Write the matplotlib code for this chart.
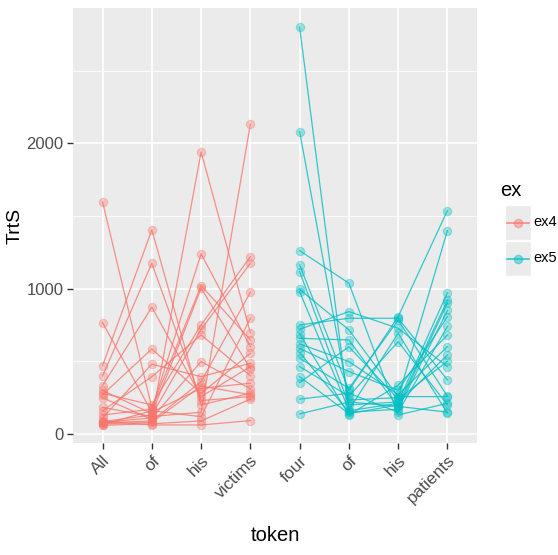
import matplotlib
matplotlib.use("Agg")
import matplotlib.pyplot as plt
from matplotlib.lines import Line2D
from matplotlib.patches import Rectangle
import numpy as np

plt.rcParams['font.family'] = ['Liberation Sans', 'DejaVu Sans']

tokens = ["All", "of", "his", "victims", "four", "of", "his", "patients"]

# ex4 subjects: values at All, of, his, victims
ex4_all = [1596, 766, 470, 399, 333, 300, 280, 270, 250, 183, 160, 131, 110, 85, 80, 75, 69, 65, 60, 90]
ex4_of = [180, 150, 1404, 1174, 872, 140, 200, 585, 100, 120, 394, 170, 480, 130, 110, 90, 80, 160, 70, 62]
ex4_his = [1021, 314, 200, 230, 257, 1002, 750, 280, 1940, 150, 681, 1239, 394, 720, 498, 360, 330, 119, 90, 62]
ex4_victims = [647, 349, 280, 257, 463, 450, 1220, 555, 697, 2131, 400, 601, 486, 1174, 310, 975, 270, 796, 240, 92]

# ex5 subjects: values at four, of, his, patients
ex5_four = [2798, 2080, 1261, 1163, 1117, 995, 979, 750, 720, 690, 658, 620, 589, 560, 521, 463, 394, 353, 240, 138]
ex5_of = [160, 234, 1037, 300, 200, 716, 165, 796, 842, 131, 647, 498, 429, 150, 314, 260, 140, 600, 280, 220]
ex5_his = [211, 250, 131, 807, 220, 257, 693, 796, 727, 337, 184, 270, 300, 170, 784, 635, 200, 240, 150, 190]
ex5_patients = [544, 1399, 211, 1537, 972, 257, 142, 372, 463, 681, 899, 601, 807, 850, 260, 200, 920, 500, 740, 150]

groups = ["ex4", "ex5"]
col4 = "#F8766D"
col5 = "#00BFC4"

W, H = 558, 555
fig = plt.figure(figsize=(W/100, H/100), dpi=100)
ax = fig.add_axes([73/W, 1-443/H, (477-73)/W, (443-8)/H])
ax.set_facecolor("#EBEBEB")

x = np.arange(len(tokens))
for i in range(len(ex4_all)):
    vals = [ex4_all[i], ex4_of[i], ex4_his[i], ex4_victims[i]]
    ax.plot(x[:4], vals, color=col4, lw=0.9, alpha=0.8, zorder=3)
    ax.scatter(x[:4], vals, s=36, color=col4, alpha=0.35, edgecolors=col4, linewidths=0.8, zorder=4)
for i in range(len(ex5_four)):
    vals = [ex5_four[i], ex5_of[i], ex5_his[i], ex5_patients[i]]
    ax.plot(x[4:], vals, color=col5, lw=0.9, alpha=0.8, zorder=3)
    ax.scatter(x[4:], vals, s=36, color=col5, alpha=0.35, edgecolors=col5, linewidths=0.8, zorder=4)

ax.set_xlim(-0.6, 7.6)
ax.set_ylim(-62, 2930)
ax.set_xticks(x)
ax.set_xticklabels(tokens, rotation=45, ha='right', va='top', rotation_mode='anchor',
                   fontsize=12.5, color='#4D4D4D')
ax.set_yticks([0, 1000, 2000])
ax.set_yticks([500, 1500, 2500], minor=True)
ax.tick_params(axis='y', which='minor', length=0)
ax.tick_params(axis='both', which='major', length=4, width=1, color='#333333',
               labelcolor='#4D4D4D', pad=3)
ax.tick_params(axis='y', which='major', labelsize=12)
ax.grid(which='major', color='white', lw=1.2)
ax.grid(which='minor', axis='y', color='white', lw=0.6)
ax.set_axisbelow(True)
for s in ax.spines.values():
    s.set_visible(False)

ax.set_xlabel("token", fontsize=14.5, labelpad=14)
ax.set_ylabel("TrtS", fontsize=14, labelpad=2)

# legend
fig.text(500/W, 1-190/H, "ex", fontsize=14.5, va='center', ha='left')
for j, (g, c) in enumerate(zip(groups, [col4, col5])):
    y0 = 205 + j * 36
    fig.patches.append(Rectangle((505/W, 1-(y0+35)/H), 26/W, 35/H, transform=fig.transFigure,
                                 facecolor="#EBEBEB", edgecolor='white', lw=1))
    yc = 1-(y0+17.5)/H
    fig.lines.append(Line2D([507/W, 529/W], [yc, yc], transform=fig.transFigure, color=c, lw=1.2, alpha=0.8))
    fig.lines.append(Line2D([518/W], [yc], transform=fig.transFigure, color=c, marker='o',
                            markersize=6, alpha=0.45, lw=0))
    fig.text(533/W, yc, g, fontsize=10.5, va='center', ha='left')

fig.savefig("out.png", dpi=100)
